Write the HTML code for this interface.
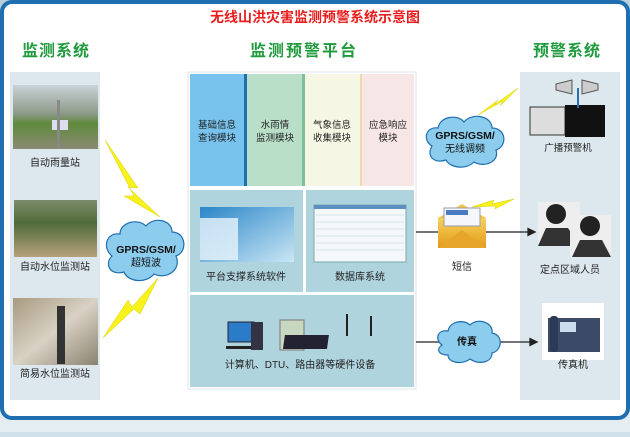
<!DOCTYPE html>
<html><head><meta charset="utf-8"><style>
body{margin:0;width:630px;height:432px;overflow:hidden;background:#cfe0ea;font-family:"Liberation Sans","Noto Sans CJK SC",sans-serif}
</style></head><body>
<svg width="630" height="432" viewBox="0 0 630 432" xmlns="http://www.w3.org/2000/svg" font-family="Liberation Sans, Noto Sans CJK SC, sans-serif">
<defs>
<linearGradient id="bot" x1="0" y1="0" x2="0" y2="1"><stop offset="0" stop-color="#b9cfdc"/><stop offset="1" stop-color="#e4eef3"/></linearGradient>
<linearGradient id="sky" x1="0" y1="0" x2="0" y2="1"><stop offset="0" stop-color="#c9d2d8"/><stop offset="0.45" stop-color="#8d9a88"/><stop offset="0.6" stop-color="#5f8a3c"/><stop offset="1" stop-color="#8a8a72"/></linearGradient>
<linearGradient id="riv" x1="0" y1="0" x2="0" y2="1"><stop offset="0" stop-color="#7c8c6a"/><stop offset="0.4" stop-color="#4f6b3a"/><stop offset="1" stop-color="#b7a07c"/></linearGradient>
<linearGradient id="wat" x1="0" y1="0" x2="1" y2="1"><stop offset="0" stop-color="#a89a80"/><stop offset="0.5" stop-color="#d8d2c4"/><stop offset="1" stop-color="#8a8270"/></linearGradient>
<linearGradient id="env" x1="0" y1="0" x2="0" y2="1"><stop offset="0" stop-color="#f7d25a"/><stop offset="1" stop-color="#e39a1c"/></linearGradient>
<linearGradient id="scr" x1="0" y1="0" x2="1" y2="1"><stop offset="0" stop-color="#2a86c8"/><stop offset="1" stop-color="#c9e6f5"/></linearGradient>
</defs>
<rect x="0" y="0" width="630" height="432" fill="url(#bot)"/>
<rect x="2" y="2" width="626" height="416" rx="10" fill="#fff" stroke="#1f6fb0" stroke-width="4"/>
<text x="315" y="22" font-size="14" font-weight="bold" fill="#e81c1c" text-anchor="middle">无线山洪灾害监测预警系统示意图</text>
<g font-size="16" fill="#1f9a3c" font-weight="bold">
<text x="56" y="56" text-anchor="middle" letter-spacing="1">监测系统</text>
<text x="304" y="56" text-anchor="middle" letter-spacing="2">监测预警平台</text>
<text x="567" y="56" text-anchor="middle" letter-spacing="1">预警系统</text>
</g>
<!-- left column -->
<rect x="10" y="72" width="90" height="328" fill="#dde8ee"/>
<rect x="13" y="85" width="85" height="64" fill="url(#sky)"/>
<rect x="52" y="120" width="16" height="10" fill="#dde"/>
<rect x="57" y="100" width="3" height="48" fill="#888"/>
<rect x="14" y="200" width="83" height="57" fill="url(#riv)"/>
<rect x="13" y="298" width="85" height="67" fill="url(#wat)"/>
<rect x="57" y="306" width="8" height="58" fill="#333"/>
<g font-size="10" fill="#222" text-anchor="middle">
<text x="55" y="166">自动雨量站</text>
<text x="55" y="270">自动水位监测站</text>
<text x="55" y="377">简易水位监测站</text>
</g>
<!-- center -->
<rect x="188" y="72" width="228" height="317" fill="#fff" stroke="#dfe6ea"/>
<rect x="190" y="74" width="54" height="112" fill="#78c2ee"/><rect x="244" y="74" width="3" height="112" fill="#1f6fb0"/>
<rect x="247" y="74" width="55" height="112" fill="#b9dfc9"/><rect x="302" y="74" width="3" height="112" fill="#7cc098"/>
<rect x="305" y="74" width="55" height="112" fill="#f6f6e4"/><rect x="360" y="74" width="2" height="112" fill="#f0d8a8"/>
<rect x="362" y="74" width="52" height="112" fill="#f7e6e6"/>
<g font-size="9.5" fill="#222" text-anchor="middle">
<text x="217" y="128">基础信息</text><text x="217" y="141">查询模块</text>
<text x="275" y="128">水雨情</text><text x="275" y="141">监测模块</text>
<text x="332" y="128">气象信息</text><text x="332" y="141">收集模块</text>
<text x="388" y="128">应急响应</text><text x="388" y="141">模块</text>
</g>
<rect x="190" y="190" width="113" height="102" fill="#b0d4de"/>
<rect x="306" y="190" width="108" height="102" fill="#b0d4de"/>
<rect x="200" y="207" width="94" height="55" fill="url(#scr)"/>
<rect x="200" y="218" width="38" height="42" fill="#e8f4fb" opacity="0.8"/>
<rect x="314" y="205" width="92" height="57" fill="#f4f8fb" stroke="#7aa"/>
<rect x="314" y="205" width="92" height="4" fill="#5c8fc0"/>
<g stroke="#bcc" stroke-width="0.5"><line x1="316" y1="215" x2="404" y2="215"/><line x1="316" y1="222" x2="404" y2="222"/><line x1="316" y1="229" x2="404" y2="229"/><line x1="316" y1="236" x2="404" y2="236"/><line x1="316" y1="243" x2="404" y2="243"/><line x1="316" y1="250" x2="404" y2="250"/></g>
<g font-size="10" fill="#222" text-anchor="middle">
<text x="246" y="280">平台支撑系统软件</text>
<text x="360" y="280">数据库系统</text>
</g>
<rect x="190" y="295" width="224" height="92" fill="#b0d4de"/>
<rect x="228" y="322" width="26" height="20" fill="#2a7cc8" stroke="#223"/><rect x="226" y="346" width="30" height="3" fill="#222"/>
<rect x="251" y="322" width="12" height="28" fill="#334"/>
<rect x="280" y="320" width="24" height="30" fill="#c8d8c0" stroke="#777"/>
<rect x="332" y="335" width="44" height="14" fill="#223" transform="skewX(-8)"/>
<line x1="347" y1="314" x2="347" y2="336" stroke="#222" stroke-width="2"/><line x1="371" y1="316" x2="371" y2="336" stroke="#222" stroke-width="2"/>
<text x="300" y="368" font-size="10" fill="#222" text-anchor="middle">计算机、DTU、路由器等硬件设备</text>
<!-- right column -->
<rect x="520" y="72" width="100" height="328" fill="#dde8ee"/>
<rect x="530" y="107" width="35" height="28" fill="#ddd" stroke="#333"/>
<rect x="565" y="105" width="40" height="32" fill="#111"/>
<rect x="577" y="88" width="2" height="20" fill="#2a6fb0"/>
<path d="M556 84 L572 80 L572 94 L556 90Z M582 80 L598 84 L598 90 L582 94Z" fill="#ccc" stroke="#555"/>
<text x="568" y="151" font-size="9.5" fill="#222" text-anchor="middle">广播预警机</text>
<rect x="538" y="202" width="42" height="44" fill="#eee"/><circle cx="556" cy="214" r="10" fill="#222"/><path d="M538 246 L546 228 L568 228 L580 246Z" fill="#333"/>
<rect x="570" y="215" width="41" height="42" fill="#eee"/><circle cx="590" cy="226" r="10" fill="#222"/><path d="M572 257 L580 240 L602 240 L611 257Z" fill="#333"/>
<text x="570" y="273" font-size="10" fill="#222" text-anchor="middle">定点区域人员</text>
<rect x="542" y="303" width="62" height="57" fill="#fff"/>
<path d="M548 318 L600 318 L600 352 L548 352Z" fill="#3b4a66"/><rect x="560" y="322" width="16" height="10" fill="#cde"/><rect x="550" y="316" width="8" height="36" rx="3" fill="#2c3a55"/>
<text x="573" y="368" font-size="10" fill="#222" text-anchor="middle">传真机</text>
<!-- envelope -->
<rect x="438" y="218" width="48" height="30" fill="url(#env)"/>
<path d="M438 218 L462 204 L486 218Z" fill="#f3c34a"/>
<rect x="444" y="208" width="36" height="18" fill="#f4f6fa" stroke="#99a"/>
<rect x="446" y="210" width="22" height="5" fill="#4b7cc3"/>
<path d="M438 248 L462 230 L486 248Z" fill="#e7a52a"/>
<text x="462" y="270" font-size="10" fill="#222" text-anchor="middle">短信</text>
<!-- arrows -->
<g stroke="#222" stroke-width="1.3" fill="#222">
<line x1="416" y1="232" x2="438" y2="232"/><line x1="486" y1="232" x2="530" y2="232"/><path d="M535 232 L528 228.5 L528 235.5Z"/>
<line x1="416" y1="342" x2="440" y2="342"/><line x1="496" y1="342" x2="532" y2="342"/><path d="M537 342 L530 338.5 L530 345.5Z"/>
</g>
<!-- lightning -->
<g fill="#f6f21a" stroke="#d9cc00" stroke-width="0.5">
<path d="M105 140 L138 188 L128 187 L160 217 L124 196 L134 196Z"/>
<path d="M103 338 L128 300 L132 307 L158 278 L140 314 L134 309Z"/>
<path d="M478 115 L498 100 L494 105 L518 88 L500 106 L503 101Z"/>
<path d="M472 207 L494 200 L492 204 L514 199 L495 209 L496 206Z"/>
</g>
<!-- clouds -->
<g fill="#8ccdee" stroke="#1f6fb0" stroke-width="1.2">
<path d="M112 256 C102 248 106 232 120 234 C120 222 138 218 146 226 C154 216 172 220 172 232 C186 232 188 252 176 256 C182 270 166 280 154 274 C146 284 128 282 124 272 C110 276 104 264 112 256Z"/>
<path d="M432 146 C422 140 426 126 438 128 C440 116 458 114 464 122 C472 112 492 116 492 128 C506 128 508 146 496 150 C500 162 484 168 474 162 C466 170 450 168 446 160 C434 164 426 156 432 146Z"/>
<path d="M442 345 C434 339 438 329 448 331 C450 321 464 319 470 325 C478 317 494 323 492 333 C504 335 502 351 492 353 C492 363 478 365 470 359 C462 365 448 363 448 355 C438 355 436 349 442 345Z"/>
</g>
<g font-size="10.5" font-weight="bold" fill="#111" text-anchor="middle">
<text x="146" y="253">GPRS/GSM/</text>
<text x="465" y="139">GPRS/GSM/</text>
</g>
<g font-size="10" fill="#111" text-anchor="middle">
<text x="146" y="266">超短波</text>
<text x="465" y="152">无线调频</text>
<text x="467" y="345" font-weight="bold">传真</text>
</g>
</svg>
</body></html>
